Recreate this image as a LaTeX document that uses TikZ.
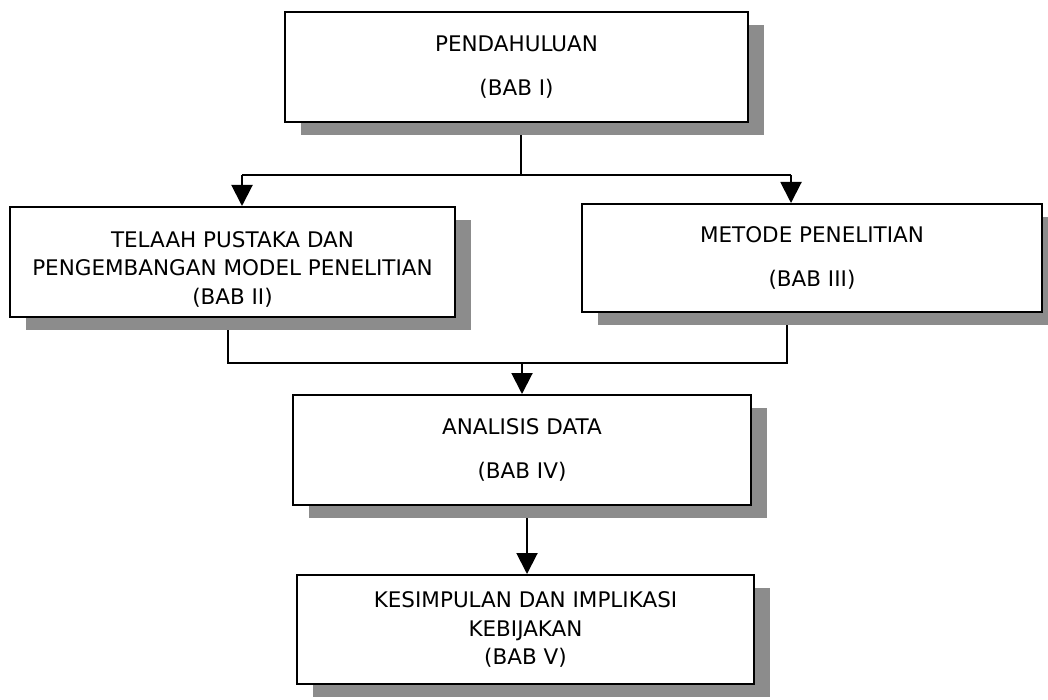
\documentclass[tikz,border=0pt]{standalone}
\usepackage{fontspec}
\setmainfont{DejaVu Sans}
\usetikzlibrary{arrows.meta,shadows,backgrounds}
\begin{document}
\begin{tikzpicture}[x=1pt,y=-1pt,
  chapbox/.style={draw, line width=2pt, fill=white, inner sep=0pt, align=center,
    font=\fontsize{21.5}{28.5}\selectfont,
    drop shadow={shadow xshift=16pt, shadow yshift=-13pt, fill=black!45, opacity=1}},
  link/.style={line width=2pt},
  arr/.style={link, -{Triangle[width=21pt,length=21pt]}}
]
\useasboundingbox (0,0) rectangle (1048,700);

\node[chapbox, minimum width=463pt, minimum height=110pt] (b1) at (516.5,67) {PENDAHULUAN\\[16pt](BAB I)};
\node[chapbox, minimum width=445pt, minimum height=110pt] (b2) at (232.5,262) {\rule{0pt}{30pt}TELAAH PUSTAKA DAN\\PENGEMBANGAN MODEL PENELITIAN\\(BAB II)};
\node[chapbox, minimum width=460pt, minimum height=108pt] (b3) at (812,258) {METODE PENELITIAN\\[16pt](BAB III)};
\node[chapbox, minimum width=458pt, minimum height=110pt] (b4) at (522,450) {ANALISIS DATA\\[16pt](BAB IV)};
\node[chapbox, minimum width=457pt, minimum height=109pt] (b5) at (525.5,629.5) {KESIMPULAN DAN IMPLIKASI\\KEBIJAKAN\\(BAB V)};

\coordinate (j1) at (521,175);
\coordinate (a2) at (242,175);
\coordinate (a3) at (791,175);
\coordinate (c2) at (228,363);
\coordinate (c3) at (787,363);
\coordinate (c4) at (522,363);
\coordinate (d4) at (527,520);

\begin{pgfonlayer}{background}
\draw[link] (b1.south -| j1) -- (j1);
\draw[link] (a2) -- (a3);
\draw[arr] (a2) -- (a2 |- b2.north);
\draw[arr] (a3) -- (a3 |- b3.north);
\draw[link] (b2.south -| c2) -- (c2) -- (c3) -- (b3.south -| c3);
\draw[arr] (c4) -- (c4 |- b4.north);
\draw[arr] (b4.south -| d4) -- (d4 |- b5.north);
\end{pgfonlayer}
\end{tikzpicture}
\end{document}
